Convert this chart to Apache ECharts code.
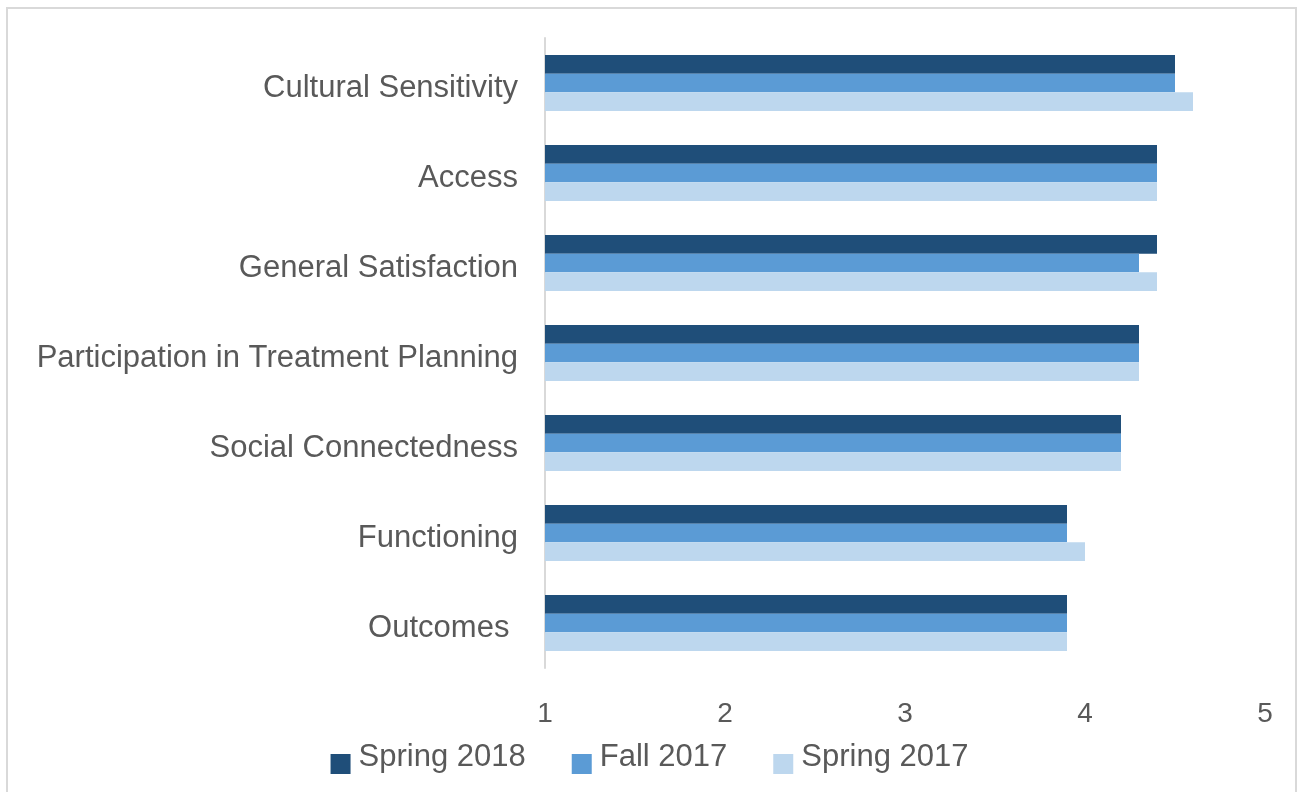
<!DOCTYPE html>
<html>
<head>
<meta charset="utf-8">
<script src="https://cdn.jsdelivr.net/npm/echarts@6/dist/echarts.min.js"></script>
<style>
  html, body { margin: 0; padding: 0; background: #fff; }
  #chart { width: 1299px; height: 792px; }
</style>
</head>
<body>
<div id="chart"></div>
<script>
// categories, top to bottom
const categories = [
  "Cultural Sensitivity",
  "Access",
  "General Satisfaction",
  "Participation in Treatment Planning",
  "Social Connectedness",
  "Functioning",
  "Outcomes "
]
const spring2018 = [4.5, 4.4, 4.4, 4.3, 4.2, 3.9, 3.9]
const fall2017 = [4.5, 4.4, 4.3, 4.3, 4.2, 3.9, 3.9]
const spring2017 = [4.6, 4.4, 4.4, 4.3, 4.2, 4.0, 3.9]
const seriesNames = ["Spring 2018", "Fall 2017", "Spring 2017"]
const colors = ["#1F4E79", "#5B9BD5", "#BDD7EE"]

const chart = echarts.init(document.getElementById("chart"))

const textColor = "#595959"
const font = "Liberation Sans, Arial, sans-serif"

const makeSeries = (name, data) => ({
  name: name,
  type: "bar",
  data: data,
  barWidth: 18.7,
  barGap: "0%",
  animation: false
})

const option = {
  backgroundColor: "#fff",
  color: colors,
  textStyle: { fontFamily: font },
  graphic: [
    {
      type: "rect",
      shape: { x: 7, y: 8, width: 1289, height: 800 },
      style: { fill: "none", stroke: "#d9d9d9", lineWidth: 2 },
      silent: true
    }
  ],
  grid: {
    left: 545,
    right: 34,
    top: 38,
    bottom: 124,
    containLabel: false
  },
  legend: {
    bottom: 13,
    left: "center",
    itemWidth: 20,
    itemHeight: 20,
    itemGap: 46,
    icon: "rect",
    formatter: (name) => "{a|" + name + "}",
    textStyle: {
      color: textColor,
      fontFamily: font,
      rich: {
        a: { color: textColor, fontSize: 31, fontFamily: font, padding: [0, 0, 14, 3] }
      }
    },
    data: seriesNames
  },
  xAxis: {
    type: "value",
    min: 1,
    max: 5,
    interval: 1,
    axisLine: { show: false },
    axisTick: { show: false },
    splitLine: { show: false },
    axisLabel: { color: textColor, fontSize: 28, margin: 32, fontFamily: font }
  },
  yAxis: {
    type: "category",
    inverse: true,
    data: categories,
    axisLine: { show: true, lineStyle: { color: "#d9d9d9", width: 2 } },
    axisTick: { show: false },
    axisLabel: {
      margin: 27,
      formatter: "{a|{value}}",
      rich: {
        a: { color: textColor, fontSize: 31, fontFamily: font, padding: [10, 0, 0, 0] }
      }
    }
  },
  series: [
    makeSeries(seriesNames[0], spring2018),
    makeSeries(seriesNames[1], fall2017),
    makeSeries(seriesNames[2], spring2017)
  ]
}

chart.setOption(option)
</script>
</body>
</html>
